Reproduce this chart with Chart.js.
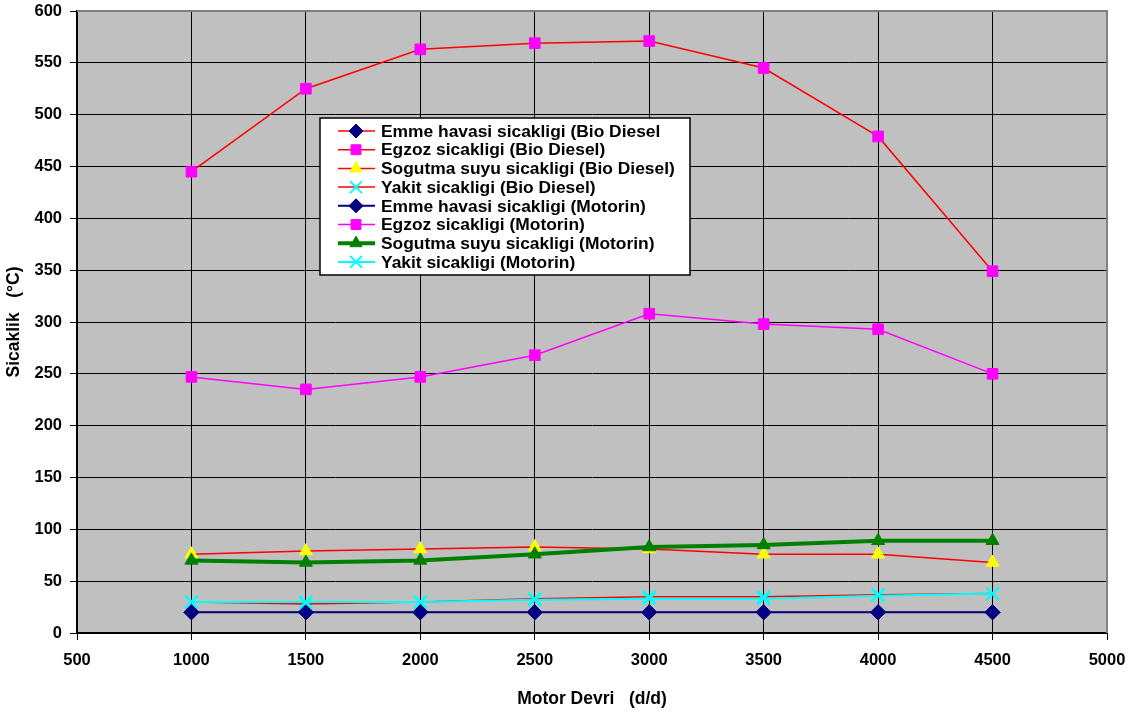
<!DOCTYPE html>
<html>
<head>
<meta charset="utf-8">
<script src="https://cdn.jsdelivr.net/npm/chart.js@4.4.1/dist/chart.umd.min.js"></script>
<style>
  html, body { margin: 0; padding: 0; background: #ffffff; }
  #wrap { width: 1136px; height: 716px; position: relative; }
</style>
</head>
<body>
<div id="wrap"><canvas id="tempChart"></canvas></div>
<script>
// engine speed (d/d)
const rpm = [1000, 1500, 2000, 2500, 3000, 3500, 4000, 4500];

// temperatures (°C) - bio diesel
const emmeBio    = [20, 20, 20, 20, 20, 20, 20, 20];
const egzozBio   = [445, 525, 563, 569, 571, 545, 479, 349];
const sogutmaBio = [76, 79, 81, 83, 81, 76, 76, 68];
const yakitBio   = [30, 28, 30, 33, 35, 35, 37, 38];

// temperatures (°C) - motorin
const emmeMot    = [20, 20, 20, 20, 20, 20, 20, 20];
const egzozMot   = [247, 235, 247, 268, 308, 298, 293, 250];
const sogutmaMot = [70, 68, 70, 76, 83, 85, 89, 89];
const yakitMot   = [30, 30, 30, 32, 33, 33, 36, 38];

const xTicks = [500, 1000, 1500, 2000, 2500, 3000, 3500, 4000, 4500, 5000];
const yTicks = [0, 50, 100, 150, 200, 250, 300, 350, 400, 450, 500, 550, 600];

const FONT = '"Liberation Sans", Arial, sans-serif';

function pts(vals) {
  return rpm.map((r, i) => ({ x: r, y: vals[i] }));
}

function series(label, vals, line, lineW, style, fill, stroke, radius) {
  return {
    label,
    data: pts(vals),
    borderColor: line,
    borderWidth: lineW,
    pointStyle: style,
    pointRadius: radius,
    pointHoverRadius: radius,
    pointBackgroundColor: fill,
    pointBorderColor: stroke,
    pointBorderWidth: style === 'crossRot' ? 2 : 1,
    tension: 0,
    fill: false
  };
}

const datasets = [
  series('Emme havasi sicakligi (Bio Diesel', emmeBio, '#ff0000', 1.5, 'rectRot', '#000080', '#000080', 7.5),
  series('Egzoz sicakligi (Bio Diesel)', egzozBio, '#ff0000', 1.5, 'rect', '#ff00ff', '#ff00ff', 7.5),
  series('Sogutma suyu sicakligi (Bio Diesel)', sogutmaBio, '#ff0000', 1.5, 'triangle', '#ffff00', '#ffff00', 7.5),
  series('Yakit sicakligi (Bio Diesel)', yakitBio, '#ff0000', 1.5, 'crossRot', '#00ffff', '#00ffff', 9),
  series('Emme havasi sicakligi (Motorin)', emmeMot, '#000080', 2, 'rectRot', '#000080', '#000080', 7.5),
  series('Egzoz sicakligi (Motorin)', egzozMot, '#ff00ff', 1.5, 'rect', '#ff00ff', '#ff00ff', 7.5),
  series('Sogutma suyu sicakligi (Motorin)', sogutmaMot, '#008000', 4, 'triangle', '#008000', '#008000', 7.5),
  series('Yakit sicakligi (Motorin)', yakitMot, '#00ffff', 2, 'crossRot', '#00ffff', '#00ffff', 9)
];
// later series sit on top
datasets.forEach((d, i) => { d.order = datasets.length - i; });

// grey plot background and grey top/right frame
const plotFrame = {
  id: 'plotFrame',
  beforeDraw(chart) {
    const { ctx, chartArea: a } = chart;
    ctx.save();
    ctx.fillStyle = '#c0c0c0';
    ctx.fillRect(a.left, a.top, a.right - a.left, a.bottom - a.top);
    ctx.restore();
  },
  afterDatasetsDraw(chart) {
    const { ctx, chartArea: a } = chart;
    ctx.save();
    ctx.strokeStyle = '#808080';
    ctx.lineWidth = 2;
    ctx.beginPath();
    ctx.moveTo(a.left, a.top);
    ctx.lineTo(a.right, a.top);
    ctx.lineTo(a.right, a.bottom);
    ctx.stroke();
    ctx.restore();
  }
};

// boxed legend placed inside the plot
const boxLegend = {
  id: 'boxLegend',
  afterDraw(chart) {
    const { ctx } = chart;
    const bx = 320, by = 118, bw = 370, bh = 157;
    ctx.save();
    ctx.fillStyle = '#ffffff';
    ctx.fillRect(bx, by, bw, bh);
    ctx.strokeStyle = '#000000';
    ctx.lineWidth = 1.5;
    ctx.strokeRect(bx, by, bw, bh);

    ctx.font = 'bold 17.4px ' + FONT;
    ctx.textBaseline = 'middle';
    chart.data.datasets.forEach((d, i) => {
      const y = by + 13 + i * 18.7;
      ctx.strokeStyle = d.borderColor;
      ctx.lineWidth = d.borderWidth;
      ctx.beginPath();
      ctx.moveTo(338, y);
      ctx.lineTo(375, y);
      ctx.stroke();
      ctx.fillStyle = d.pointBackgroundColor;
      ctx.strokeStyle = d.pointBorderColor;
      ctx.lineWidth = d.pointBorderWidth;
      Chart.helpers.drawPoint(ctx, { pointStyle: d.pointStyle, radius: d.pointRadius - 0.5, rotation: 0, borderWidth: d.pointBorderWidth }, 356, y);
      ctx.fillStyle = '#000000';
      ctx.fillText(d.label, 381, y + 1);
    });
    ctx.restore();
  }
};

new Chart(document.getElementById('tempChart'), {
  type: 'line',
  data: { datasets },
  plugins: [plotFrame, boxLegend],
  options: {
    responsive: true,
    maintainAspectRatio: false,
    animation: false,
    layout: { padding: { top: 8, right: 29, left: 0, bottom: 0 } },
    plugins: {
      legend: { display: false },
      tooltip: { enabled: false }
    },
    scales: {
      x: {
        type: 'linear',
        min: 500,
        max: 5000,
        afterBuildTicks: s => { s.ticks = xTicks.map(v => ({ value: v })); },
        afterFit: s => { s.height = 83; s.paddingLeft = 0; s.paddingRight = 0; },
        ticks: {
          color: '#000000',
          font: { family: FONT, size: 16.5, weight: 'bold' },
          padding: 11,
          callback: v => String(v)
        },
        grid: { color: '#000000', lineWidth: 1, tickLength: 7, tickColor: '#000000' },
        border: { color: '#000000', width: 2 },
        title: {
          display: true,
          text: 'Motor Devri   (d/d)',
          color: '#000000',
          font: { family: FONT, size: 17.5, weight: 'bold' },
          padding: { top: 0, bottom: 6 }
        }
      },
      y: {
        min: 0,
        max: 600,
        afterBuildTicks: s => { s.ticks = yTicks.map(v => ({ value: v })); },
        afterFit: s => { s.width = 77; s.paddingTop = 0; s.paddingBottom = 0; },
        ticks: {
          color: '#000000',
          font: { family: FONT, size: 16.5, weight: 'bold' },
          padding: 8,
          callback: v => String(v)
        },
        grid: { color: '#000000', lineWidth: 1, tickLength: 7, tickColor: '#000000' },
        border: { color: '#000000', width: 2 },
        title: {
          display: true,
          text: 'Sicaklik   (°C)',
          color: '#000000',
          font: { family: FONT, size: 17.5, weight: 'bold' },
          padding: { top: 4, bottom: 0 }
        }
      }
    }
  }
});
</script>
</body>
</html>
